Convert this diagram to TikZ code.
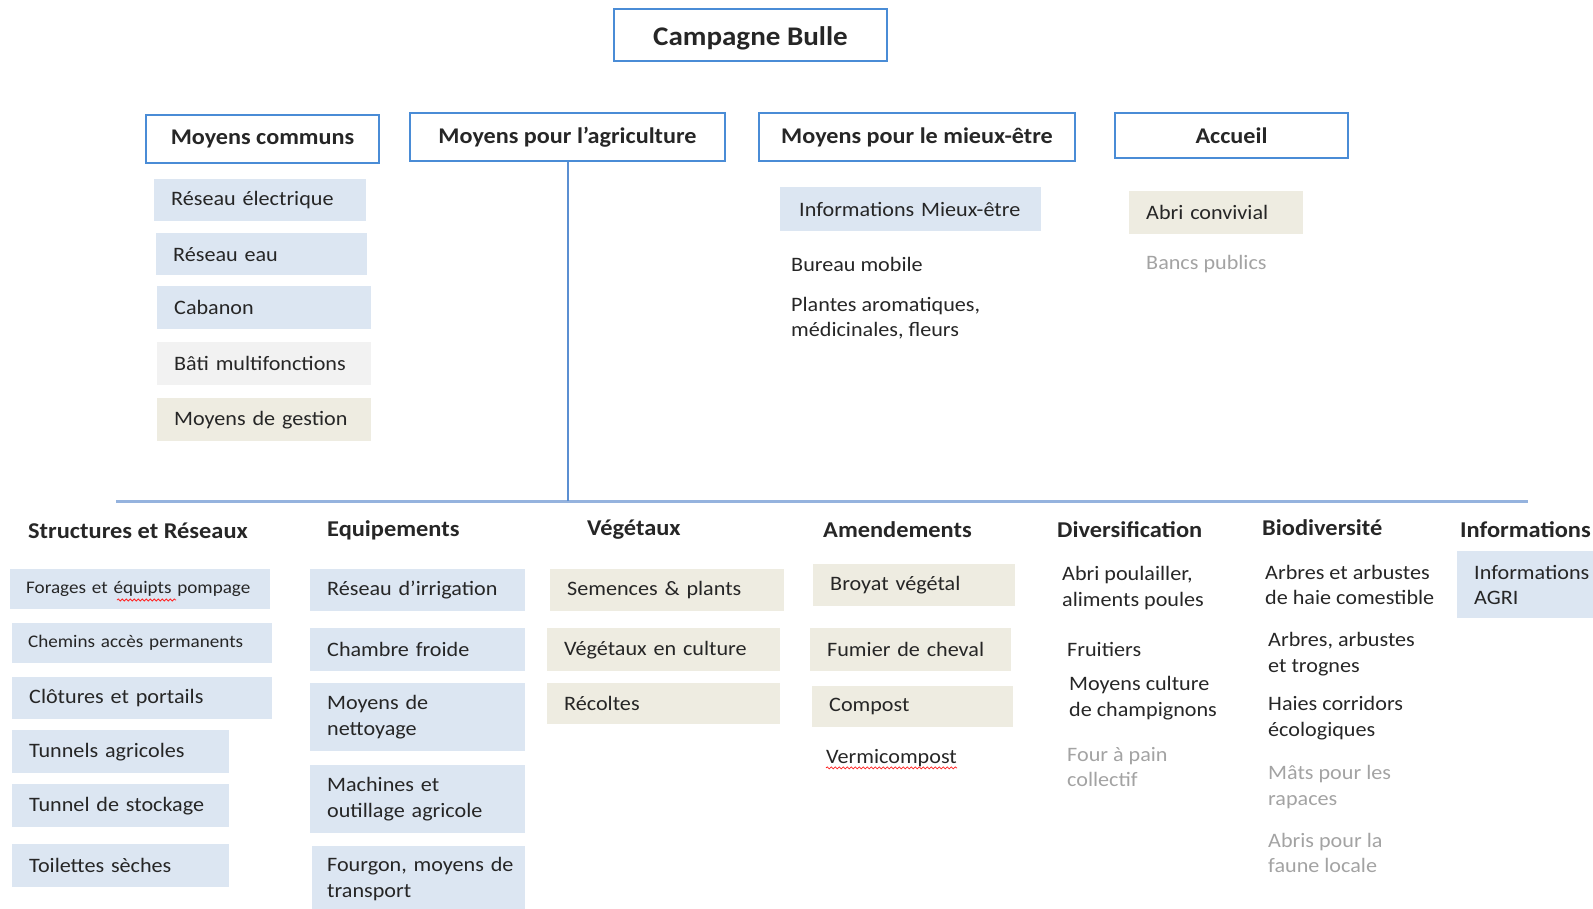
\documentclass[tikz,border=0pt]{standalone}
\usepackage{fontspec}
\setmainfont{Carlito}[FakeStretch=1.08]
\usetikzlibrary{decorations.pathmorphing}
\definecolor{frameblue}{HTML}{4A8CD6}
\definecolor{lineblue}{HTML}{5B8FD2}
\definecolor{barblue}{HTML}{95B3DE}
\definecolor{fillblue}{HTML}{DCE6F2}
\definecolor{fillbeige}{HTML}{EEECE1}
\definecolor{fillgray}{HTML}{F2F2F2}
\definecolor{softgray}{HTML}{A3A3A3}
\begin{document}
\begin{tikzpicture}[x=1pt, y=-1pt, text=black!85,
    font=\fontsize{20.5pt}{25.4pt}\selectfont,
    head/.style={draw=frameblue, line width=2pt, inner sep=0pt, font=\fontsize{22.4pt}{26pt}\selectfont\bfseries},
    cat/.style={anchor=west, inner sep=0pt, font=\fontsize{22.6pt}{26pt}\selectfont\bfseries},
    item/.style={anchor=north west, inner xsep=17pt, inner ysep=0pt, align=left},
    note/.style={anchor=west, inner sep=0pt, align=left},
    small/.style={font=\fontsize{17.7pt}{20pt}\selectfont},
    wavy/.style={red!85, line width=0.8pt, decorate, decoration={snake, amplitude=1pt, segment length=4pt}}]
  \useasboundingbox (0,0) rectangle (1593,909);

  % titre et rubriques
  \node[head, minimum width=273pt, minimum height=52pt, text height=28pt, text depth=6pt, font=\fontsize{26.9pt}{30pt}\selectfont\bfseries] (title) at (750.5,35) {Campagne Bulle};
  \node[head, minimum width=233pt, minimum height=48pt] (communs) at (262.5,139) {Moyens communs};
  \node[head, minimum width=315pt, minimum height=48pt] (agri) at (567.5,137) {Moyens pour l’agriculture};
  \node[head, minimum width=316pt, minimum height=48pt] (mieux) at (917,137) {Moyens pour le mieux-être};
  \node[head, minimum width=233pt, minimum height=45pt] (accueil) at (1231.5,135.5) {Accueil};

  % moyens communs
  \node[item, fill=fillblue, minimum height=42pt, text width=178pt] (elec) at (154,179) {Réseau électrique};
  \node[item, fill=fillblue, minimum height=42pt, text width=177pt] (eau) at (156,233) {Réseau eau};
  \node[item, fill=fillblue, minimum height=43pt, text width=180pt] (cabanon) at (157,286) {Cabanon};
  \node[item, fill=fillgray, minimum height=43pt, text width=180pt] (bati) at (157,342) {Bâti multifonctions};
  \node[item, fill=fillbeige, minimum height=43pt, text width=180pt] (gestion) at (157,398) {Moyens de gestion};

  % mieux-etre et accueil
  \node[item, fill=fillblue, minimum height=44pt, inner xsep=19pt, text width=223pt] (infomieux) at (780,187) {Informations Mieux-être};
  \node[note] (bureau) at (791,264) {Bureau mobile};
  \node[note] (plantes) at (791,318) {Plantes aromatiques,\\médicinales, fleurs};
  \node[item, fill=fillbeige, minimum height=43pt, text width=140pt] (abri) at (1129,191) {Abri convivial};
  \node[note, text=softgray] (bancs) at (1146,264) {Bancs publics};

  % liaison vers l'agriculture
  \coordinate (barL) at (116,501);
  \coordinate (barR) at (1528,501);
  \draw[barblue, line width=3pt] (barL) -- (barR);
  \draw[lineblue, line width=2pt] (agri.south) -- (agri.south |- barL);

  % categories agricoles
  \node[cat] (struct) at (28,531) {Structures et Réseaux};
  \node[cat] (equip) at (327,530) {Equipements};
  \node[cat] (veget) at (587,530) {Végétaux};
  \node[cat] (amend) at (823,530) {Amendements};
  \node[cat] (divers) at (1057,530) {Diversification};
  \node[cat] (biodiv) at (1262,528) {Biodiversité};
  \node[cat] (infos) at (1460,530) {Informations};

  % structures et reseaux
  \node[item, small, fill=fillblue, minimum height=40pt, inner xsep=16pt, text width=228pt] (forages) at (10,569) {Forages et équipts pompage};
  \node[item, small, fill=fillblue, minimum height=40pt, inner xsep=16pt, text width=228pt] (chemins) at (12,623) {Chemins accès permanents};
  \node[item, fill=fillblue, minimum height=42pt, text width=226pt] (clotures) at (12,677) {Clôtures et portails};
  \node[item, fill=fillblue, minimum height=43pt, text width=183pt] (tunnels) at (12,730) {Tunnels agricoles};
  \node[item, fill=fillblue, minimum height=43pt, text width=183pt] (stockage) at (12,784) {Tunnel de stockage};
  \node[item, fill=fillblue, minimum height=43pt, text width=183pt] (toilettes) at (12,844) {Toilettes sèches};
  \draw[wavy] (117,600) -- (176,600);

  % equipements
  \node[item, fill=fillblue, minimum height=42pt, text width=181pt] (irrig) at (310,569) {Réseau d’irrigation};
  \node[item, fill=fillblue, minimum height=43pt, text width=181pt] (froide) at (310,628) {Chambre froide};
  \node[item, fill=fillblue, minimum height=68pt, text width=181pt] (nettoy) at (310,683) {Moyens de\\nettoyage};
  \node[item, fill=fillblue, minimum height=68pt, text width=181pt] (machines) at (310,765) {Machines et\\outillage agricole};
  \node[item, fill=fillblue, minimum height=66pt, inner xsep=15pt, text width=183pt] (fourgon) at (312,846) {\mbox{Fourgon, moyens de}\\transport};

  % vegetaux
  \node[item, fill=fillbeige, minimum height=42pt, text width=200pt] (semences) at (550,569) {Semences \& plants};
  \node[item, fill=fillbeige, minimum height=43pt, text width=199pt] (culture) at (547,628) {Végétaux en culture};
  \node[item, fill=fillbeige, minimum height=41pt, text width=199pt] (recoltes) at (547,683) {Récoltes};

  % amendements
  \node[item, fill=fillbeige, minimum height=42pt, text width=168pt] (broyat) at (813,564) {Broyat végétal};
  \node[item, fill=fillbeige, minimum height=43pt, text width=167pt] (fumier) at (810,628) {Fumier de cheval};
  \node[item, fill=fillbeige, minimum height=41pt, text width=167pt] (compost) at (812,686) {Compost};
  \node[note] (vermi) at (826,758) {Vermicompost};
  \draw[wavy] ([yshift=-1pt]vermi.south west) -- ([yshift=-1pt]vermi.south east);

  % diversification
  \node[note] (poulailler) at (1062,588) {Abri poulailler,\\aliments poules};
  \node[note] (fruitiers) at (1067,649) {Fruitiers};
  \node[note] (champi) at (1069,698) {Moyens culture\\de champignons};
  \node[note, text=softgray] (four) at (1067,767) {Four à pain\\collectif};

  % biodiversite
  \node[note] (haie) at (1265,585) {Arbres et arbustes\\de haie comestible};
  \node[note] (trognes) at (1268,654) {Arbres, arbustes\\et trognes};
  \node[note] (corridors) at (1268,718) {Haies corridors\\écologiques};
  \node[note, text=softgray] (rapaces) at (1268,787) {Mâts pour les\\rapaces};
  \node[note, text=softgray] (faune) at (1268,853) {Abris pour la\\faune locale};

  % informations
  \node[item, fill=fillblue, minimum height=67pt, text width=126pt] (infoagri) at (1457,551) {Informations\\AGRI};
\end{tikzpicture}
\end{document}
